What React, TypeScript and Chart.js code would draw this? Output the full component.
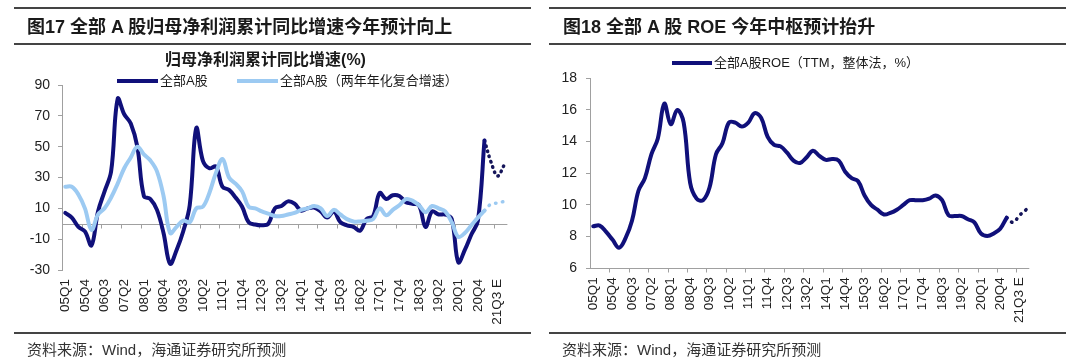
import React, { useEffect, useRef } from 'react';
import { Chart, registerables } from 'chart.js';

Chart.register(...registerables);

// ---------------- data ----------------
const quarters = [
  '05Q1', '05Q2', '05Q3', '05Q4', '06Q1', '06Q2', '06Q3', '06Q4', '07Q1', '07Q2', '07Q3', '07Q4',
  '08Q1', '08Q2', '08Q3', '08Q4', '09Q1', '09Q2', '09Q3', '09Q4', '10Q1', '10Q2', '10Q3', '10Q4',
  '11Q1', '11Q2', '11Q3', '11Q4', '12Q1', '12Q2', '12Q3', '12Q4', '13Q1', '13Q2', '13Q3', '13Q4',
  '14Q1', '14Q2', '14Q3', '14Q4', '15Q1', '15Q2', '15Q3', '15Q4', '16Q1', '16Q2', '16Q3', '16Q4',
  '17Q1', '17Q2', '17Q3', '17Q4', '18Q1', '18Q2', '18Q3', '18Q4', '19Q1', '19Q2', '19Q3', '19Q4',
  '20Q1', '20Q2', '20Q3', '20Q4', '21Q1', '21Q2', '21Q3 E', '21Q4',
];

// 全部A股 归母净利润累计同比 (%), 05Q1 – 21Q1
const profitYoY = [
  7, 4, -2, -5, -14, 8, 21, 34, 81, 71, 65, 50,
  18, 16, 9, -6, -26, -17, -5, 12, 62, 41, 36, 37,
  24, 22, 17, 11, 1, -0.5, -1, 0, 10, 11.5, 14.5, 13,
  8.5, 10, 10.5, 8, 4, 8, 1, -1, -2, -4.5, 3, 5,
  20, 16, 18.5, 18, 14, 13, 12, -2, 8, 6, 6, 3,
  -25, -17, -7, 2, 54,
];
// 21Q1 – 21Q4 (预测)
const profitYoYForecast = [54, 40, 31, 38];

// 全部A股（两年年化复合增速）(%), 05Q1 – 21Q1
const profitCagr2y = [
  24, 24, 19, 10, -4, 6, 10, 17, 26, 36, 43, 50,
  45, 41, 34, 18, -6, -2, 2, 1, 10, 11, 20, 33,
  42, 30, 26, 21, 11, 10, 8, 6.5, 5, 5, 6, 7,
  9, 10, 11.5, 10, 5, 9, 6, 3, 1.5, 1.5, 2, 3,
  10, 5.5, 9, 12, 16, 15, 12, 7.5, 11.5, 10, 8, 1,
  -8.5, -6, -1, 4, 8.5,
];
// 21Q1 – 21Q4 (预测)
const profitCagr2yForecast = [8.5, 12.8, 13.5, 14.5];

// 全部A股ROE（TTM，整体法，%）, 05Q1 – 21Q1
const roeTTM = [
  8.65, 8.7, 8.3, 7.8, 7.3, 7.9, 9.0, 10.9, 11.7, 13.2, 14.2, 16.4,
  15.1, 16.0, 15.2, 11.4, 10.4, 10.3, 11.1, 13.2, 13.9, 15.2, 15.2, 14.95,
  15.2, 15.8, 15.5, 14.3, 13.8, 13.7, 13.3, 12.8, 12.65, 13.0, 13.43, 13.1,
  12.85, 12.9, 12.8, 12.1, 11.7, 11.5, 10.6, 10.0, 9.7, 9.4, 9.5, 9.7,
  10.0, 10.3, 10.3, 10.3, 10.4, 10.6, 10.3, 9.35, 9.3, 9.3, 9.1, 8.9,
  8.2, 8.04, 8.2, 8.5, 9.2,
];
// 21Q1 – 21Q4 (预测)
const roeForecast = [9.2, 8.9, 9.35, 9.7];

const leftYTicks = { min: -30, max: 90, step: 20 };
const rightYTicks = { min: 6, max: 18, step: 2 };

// ---------------- styles ----------------
const NAVY = '#10107a';
const NAVY_DOT = '#15155a';
const LIGHT = '#9ccaf2';
const AXIS = '#a0a0a0';
const FONT = '"Liberation Sans", Arial, "Noto Sans CJK SC", sans-serif';

Chart.defaults.font.family = FONT;

const forecastData = (vals: number[]) => {
  const out: (number | null)[] = quarters.map(() => null);
  const start = quarters.length - vals.length;
  vals.forEach((v, k) => { out[start + k] = v; });
  return out;
};

// draws base line + tick marks every 3 quarters (at category boundaries)
const axisDeco = {
  id: 'axisDeco',
  beforeDatasetsDraw(chart: any, _args: any, opts: any) {
    const { ctx, chartArea } = chart;
    const x = chart.scales.x;
    const y = chart.scales.y;
    const yPix = Math.round(y.getPixelForValue(opts.baseValue)) + 0.5;
    const w = x.getPixelForValue(1) - x.getPixelForValue(0);
    ctx.save();
    ctx.strokeStyle = AXIS;
    ctx.lineWidth = 1;
    ctx.beginPath();
    ctx.moveTo(chartArea.left, yPix);
    ctx.lineTo(chartArea.right, yPix);
    for (let i = 3; i < quarters.length; i += 3) {
      const px = Math.round(x.getPixelForValue(i) - w / 2) + 0.5;
      ctx.moveTo(px, yPix);
      ctx.lineTo(px, yPix + 4);
    }
    ctx.stroke();
    ctx.restore();
  },
};

function buildOptions(p: {
  yMin: number; yMax: number; step: number; yWidth: number;
  pad: { left: number; right: number; top: number; bottom: number };
  yPad: number; base: number;
}): any {
  return {
    responsive: false,
    animation: false,
    events: [],
    layout: { padding: p.pad },
    plugins: {
      legend: { display: false },
      tooltip: { enabled: false },
      axisDeco: { baseValue: p.base },
    },
    elements: { point: { radius: 0 }, line: { tension: 0.38 } },
    scales: {
      x: {
        type: 'category',
        offset: true,
        border: { display: false },
        grid: { display: false, drawTicks: false, offset: true },
        ticks: {
          autoSkip: false,
          minRotation: 90,
          maxRotation: 90,
          padding: 9,
          color: '#222',
          font: { size: 13.5 },
          callback: (_v: any, i: number) => (i % 3 === 0 ? quarters[i] : ''),
        },
        afterFit: (s: any) => { s.height = 60; },
      },
      y: {
        min: p.yMin,
        max: p.yMax,
        border: { display: true, color: AXIS, width: 1 },
        grid: { display: true, drawOnChartArea: false, drawTicks: true, tickLength: 4, color: AXIS },
        ticks: { stepSize: p.step, padding: p.yPad, color: '#222', font: { size: 14 } },
        afterFit: (s: any) => { s.width = p.yWidth; },
      },
    },
  };
}

function ChartCanvas({ make }: { make: (c: HTMLCanvasElement) => Chart }) {
  const ref = useRef<HTMLCanvasElement | null>(null);
  useEffect(() => {
    if (!ref.current) return;
    const chart = make(ref.current);
    return () => chart.destroy();
  }, []);
  return <canvas ref={ref} width={540} height={359} style={{ position: 'absolute', left: 0, top: 0, width: 540, height: 359 }} />;
}

const makeLeft = (c: HTMLCanvasElement) =>
  new Chart(c, {
    type: 'line',
    data: {
      labels: quarters,
      datasets: [
        { label: '全部A股（两年年化复合增速）', data: profitCagr2y, borderColor: LIGHT, borderWidth: 4, borderCapStyle: 'round', borderJoinStyle: 'round' },
        { label: '全部A股', data: profitYoY, borderColor: NAVY, borderWidth: 4, borderCapStyle: 'round', borderJoinStyle: 'round' },
        { label: '全部A股（两年年化复合增速）预测', data: forecastData(profitCagr2yForecast), borderColor: LIGHT, borderWidth: 3.5, borderDash: [0.5, 6.5], borderCapStyle: 'round' },
        { label: '全部A股预测', data: forecastData(profitYoYForecast), borderColor: NAVY_DOT, borderWidth: 3.5, borderDash: [0.5, 5], borderCapStyle: 'round' },
      ],
    } as any,
    options: buildOptions({
      yMin: leftYTicks.min, yMax: leftYTicks.max, step: leftYTicks.step, yWidth: 62,
      pad: { left: 0, right: 32.6, top: 85, bottom: 29 }, yPad: 8, base: 0,
    }),
    plugins: [axisDeco as any],
  });

const makeRight = (c: HTMLCanvasElement) =>
  new Chart(c, {
    type: 'line',
    data: {
      labels: quarters,
      datasets: [
        { label: '全部A股ROE（TTM，整体法，%）', data: roeTTM, borderColor: NAVY, borderWidth: 4, borderCapStyle: 'round', borderJoinStyle: 'round' },
        { label: '预测', data: forecastData(roeForecast), borderColor: NAVY_DOT, borderWidth: 3.5, borderDash: [0.5, 6], borderCapStyle: 'round' },
      ],
    } as any,
    options: buildOptions({
      yMin: rightYTicks.min, yMax: rightYTicks.max, step: rightYTicks.step, yWidth: 50,
      pad: { left: 0, right: 50.7, top: 78.3, bottom: 30.7 }, yPad: 9, base: 6,
    }),
    plugins: [axisDeco as any],
  });

const rule = (left: number, top: number, width: number): React.CSSProperties => ({
  position: 'absolute', left, top, width, height: 1.5, background: '#444',
});

const textAt = (left: number, cy: number, size: number, bold: boolean, extra: React.CSSProperties = {}): React.CSSProperties => ({
  position: 'absolute', left, top: cy - size * 0.65, height: size * 1.3, lineHeight: `${size * 1.3}px`,
  fontSize: size, fontWeight: bold ? 700 : 400, whiteSpace: 'nowrap', color: '#1a1a1a', ...extra,
});

const legendLine = (left: number, cy: number, width: number, color: string): React.CSSProperties => ({
  position: 'absolute', left, top: cy - 2, width, height: 4, background: color,
});

export default function App() {
  return (
    <div style={{ position: 'fixed', left: 0, top: 0, width: 1080, height: 359, background: '#fff', fontFamily: FONT, overflow: 'hidden' }}>
      {/* left panel */}
      <div style={{ position: 'absolute', left: 0, top: 0, width: 540, height: 359 }}>
        <ChartCanvas make={makeLeft} />
        <div style={rule(14, 7, 517)} />
        <div style={textAt(27, 27.5, 18, true)}>图17 全部 A 股归母净利润累计同比增速今年预计向上</div>
        <div style={rule(14, 43, 517)} />
        <div style={textAt(0, 60, 16, true, { width: 531, textAlign: 'center', left: 0 })}>归母净利润累计同比增速(%)</div>
        <div style={legendLine(117, 81, 41, NAVY)} />
        <div style={textAt(160, 81, 13, false)}>全部A股</div>
        <div style={legendLine(237, 81, 41, LIGHT)} />
        <div style={textAt(280, 81, 13, false)}>全部A股（两年年化复合增速）</div>
        <div style={rule(14, 332, 517)} />
        <div style={textAt(27, 349.5, 15, false, { color: '#333' })}>资料来源：Wind，海通证券研究所预测</div>
      </div>
      {/* right panel */}
      <div style={{ position: 'absolute', left: 540, top: 0, width: 540, height: 359 }}>
        <ChartCanvas make={makeRight} />
        <div style={rule(9, 7, 517)} />
        <div style={textAt(23, 27.5, 18, true)}>图18 全部 A 股 ROE 今年中枢预计抬升</div>
        <div style={rule(9, 43, 517)} />
        <div style={legendLine(132, 63, 40, NAVY)} />
        <div style={textAt(174, 63, 13, false)}>全部A股ROE（TTM，整体法，%）</div>
        <div style={rule(9, 332, 517)} />
        <div style={textAt(22, 349.5, 15, false, { color: '#333' })}>资料来源：Wind，海通证券研究所预测</div>
      </div>
    </div>
  );
}
